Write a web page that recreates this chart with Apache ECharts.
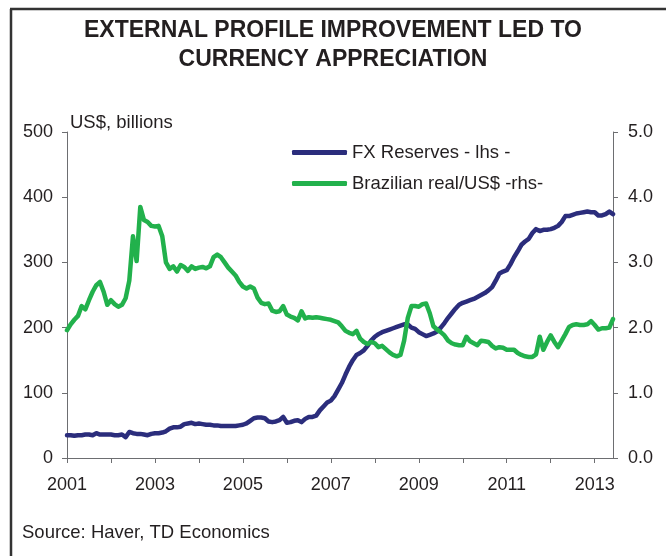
<!DOCTYPE html>
<html>
<head>
<meta charset="utf-8">
<script src="https://cdn.jsdelivr.net/npm/echarts@6/dist/echarts.min.js"></script>
<style>
html,body{margin:0;padding:0;background:#fff;}
#chart{width:666px;height:556px;}
</style>
</head>
<body>
<div id="chart"></div>
<script>
// monthly, Jan 2001 .. Jun 2013
const startYear = 2001
const monthCount = 150

// FX reserves, US$ billions (lhs), one row per year
const fxReserves = [
  35, 35, 34, 35, 35, 36, 36, 35, 38, 36, 36, 36,
  36, 35, 35, 36, 32, 40, 38, 37, 37, 36, 35, 37,
  38, 38, 39, 41, 45, 47, 47, 48, 52, 53, 54, 52,
  53, 52, 51, 51, 50, 50, 49, 49, 49, 49, 49, 50,
  51, 53, 57, 61, 62, 62, 61, 56, 55, 56, 58, 63,
  54, 55, 57, 58, 55, 60, 63, 63, 65, 73, 79, 85,
  88, 95, 105, 115, 128, 140, 150, 158, 161, 165, 172, 180,
  186, 190, 193, 195, 197, 199, 201, 203, 205, 205, 200, 198,
  193, 190, 187, 189, 191, 194, 200, 207, 215, 222, 229, 235,
  238, 240, 242, 244, 247, 250, 253, 257, 262, 272, 283, 286,
  288, 297, 308, 317, 327, 332, 336, 345, 351, 348, 350, 350,
  351, 353, 356, 362, 371, 371, 373, 375, 376, 377, 378, 377,
  377, 372, 372, 374, 378, 374
]

// Brazilian real per US$ (rhs)
const brlPerUsd = [
  1.96, 2.05, 2.12, 2.18, 2.33, 2.28, 2.42, 2.55, 2.65, 2.70, 2.55, 2.35,
  2.42, 2.36, 2.32, 2.35, 2.45, 2.72, 3.40, 3.02, 3.85, 3.65, 3.62, 3.56,
  3.55, 3.56, 3.40, 3.00, 2.90, 2.94, 2.86, 2.96, 2.93, 2.87, 2.94, 2.90,
  2.92, 2.93, 2.91, 2.94, 3.08, 3.12, 3.08, 3.00, 2.92, 2.86, 2.80, 2.70,
  2.63, 2.60, 2.63, 2.60, 2.46, 2.38, 2.36, 2.37, 2.26, 2.24, 2.25, 2.33,
  2.20, 2.17, 2.15, 2.11, 2.25, 2.14, 2.16, 2.15, 2.16, 2.15, 2.14, 2.13,
  2.12, 2.10, 2.08, 2.02, 1.95, 1.92, 1.90, 1.95, 1.83, 1.78, 1.75, 1.78,
  1.76, 1.70, 1.72, 1.67, 1.62, 1.58, 1.56, 1.58, 1.80, 2.15, 2.33, 2.33,
  2.32, 2.36, 2.37, 2.22, 2.02, 1.97, 1.93, 1.88, 1.80, 1.76, 1.74, 1.73,
  1.73, 1.86, 1.79, 1.76, 1.73, 1.80, 1.79, 1.78, 1.72, 1.68, 1.70, 1.69,
  1.66, 1.66, 1.66, 1.61, 1.58, 1.56, 1.55, 1.55, 1.59, 1.86, 1.66, 1.78,
  1.88, 1.78, 1.70, 1.80, 1.90, 2.01, 2.04, 2.05, 2.04, 2.04, 2.05, 2.10,
  2.04, 1.97, 1.99, 1.99, 2.00, 2.13
]

const seriesNames = ['FX Reserves - lhs -', 'Brazilian real/US$ -rhs-']
const leftTicks = [0, 500, 100]
const rightTicks = [0, 5, 1]

const months = []
for (let i = 0; i < monthCount; i++) {
  months.push((startYear + Math.floor(i / 12)) + '-' + String(i % 12 + 1).padStart(2, '0'))
}

const font = 'Liberation Sans, Arial, Helvetica, sans-serif'
const textColor = '#231f20'
const axisColor = '#6d6e71'
const navy = '#2b2d7c'
const green = '#22b14c'

let chart = echarts.init(document.getElementById('chart'))
chart.setOption({
  animation: false,
  textStyle: {fontFamily: font},
  title: {
    text: 'EXTERNAL PROFILE IMPROVEMENT LED TO\nCURRENCY APPRECIATION',
    left: 'center',
    top: 11,
    textStyle: {fontSize: 23, fontWeight: 'bold', color: textColor, lineHeight: 29, fontFamily: font}
  },
  legend: {
    orient: 'vertical',
    left: 287,
    top: 138,
    itemWidth: 55,
    itemHeight: 5,
    itemGap: 12,
    icon: 'roundRect',
    textStyle: {fontSize: 18.5, color: textColor},
    data: seriesNames
  },
  graphic: [
    {type: 'line', shape: {x1: 10, y1: 9, x2: 666, y2: 9}, style: {stroke: '#333', lineWidth: 2.5}},
    {type: 'line', shape: {x1: 11, y1: 9, x2: 11, y2: 556}, style: {stroke: '#333', lineWidth: 2.5}},
    {type: 'text', left: 70, top: 113, style: {text: 'US$, billions', fontSize: 18.5, fill: textColor, fontFamily: font}},
    {type: 'text', left: 22, top: 523, style: {text: 'Source: Haver, TD Economics', fontSize: 18.5, fill: textColor, fontFamily: font}}
  ],
  grid: {left: 67, right: 53, top: 132, bottom: 98},
  xAxis: {
    type: 'category',
    data: months,
    boundaryGap: false,
    axisLine: {lineStyle: {color: axisColor, width: 1}},
    axisTick: {length: 5, interval: (i) => i % 12 === 0, lineStyle: {color: axisColor}},
    axisLabel: {
      interval: (i) => i % 24 === 0,
      formatter: (v) => v.slice(0, 4),
      fontSize: 18, color: textColor, margin: 18
    },
    splitLine: {show: false}
  },
  yAxis: [
    {
      type: 'value', position: 'left',
      min: leftTicks[0], max: leftTicks[1], interval: leftTicks[2],
      axisLine: {show: true, lineStyle: {color: axisColor}},
      axisTick: {show: true, length: 5, lineStyle: {color: axisColor}},
      axisLabel: {fontSize: 18, color: textColor, margin: 14},
      splitLine: {show: false}
    },
    {
      type: 'value', position: 'right',
      min: rightTicks[0], max: rightTicks[1], interval: rightTicks[2],
      axisLine: {show: true, lineStyle: {color: axisColor}},
      axisTick: {show: true, length: 5, lineStyle: {color: axisColor}},
      axisLabel: {fontSize: 18, color: textColor, margin: 15, formatter: (v) => v.toFixed(1)},
      splitLine: {show: false}
    }
  ],
  series: [
    {
      name: seriesNames[0], type: 'line', yAxisIndex: 0, data: fxReserves,
      showSymbol: false, color: navy,
      lineStyle: {width: 4.5, color: navy, cap: 'round', join: 'round'}
    },
    {
      name: seriesNames[1], type: 'line', yAxisIndex: 1, data: brlPerUsd,
      showSymbol: false, color: green,
      lineStyle: {width: 4.5, color: green, cap: 'round', join: 'round'}
    }
  ]
})
</script>
</body>
</html>
